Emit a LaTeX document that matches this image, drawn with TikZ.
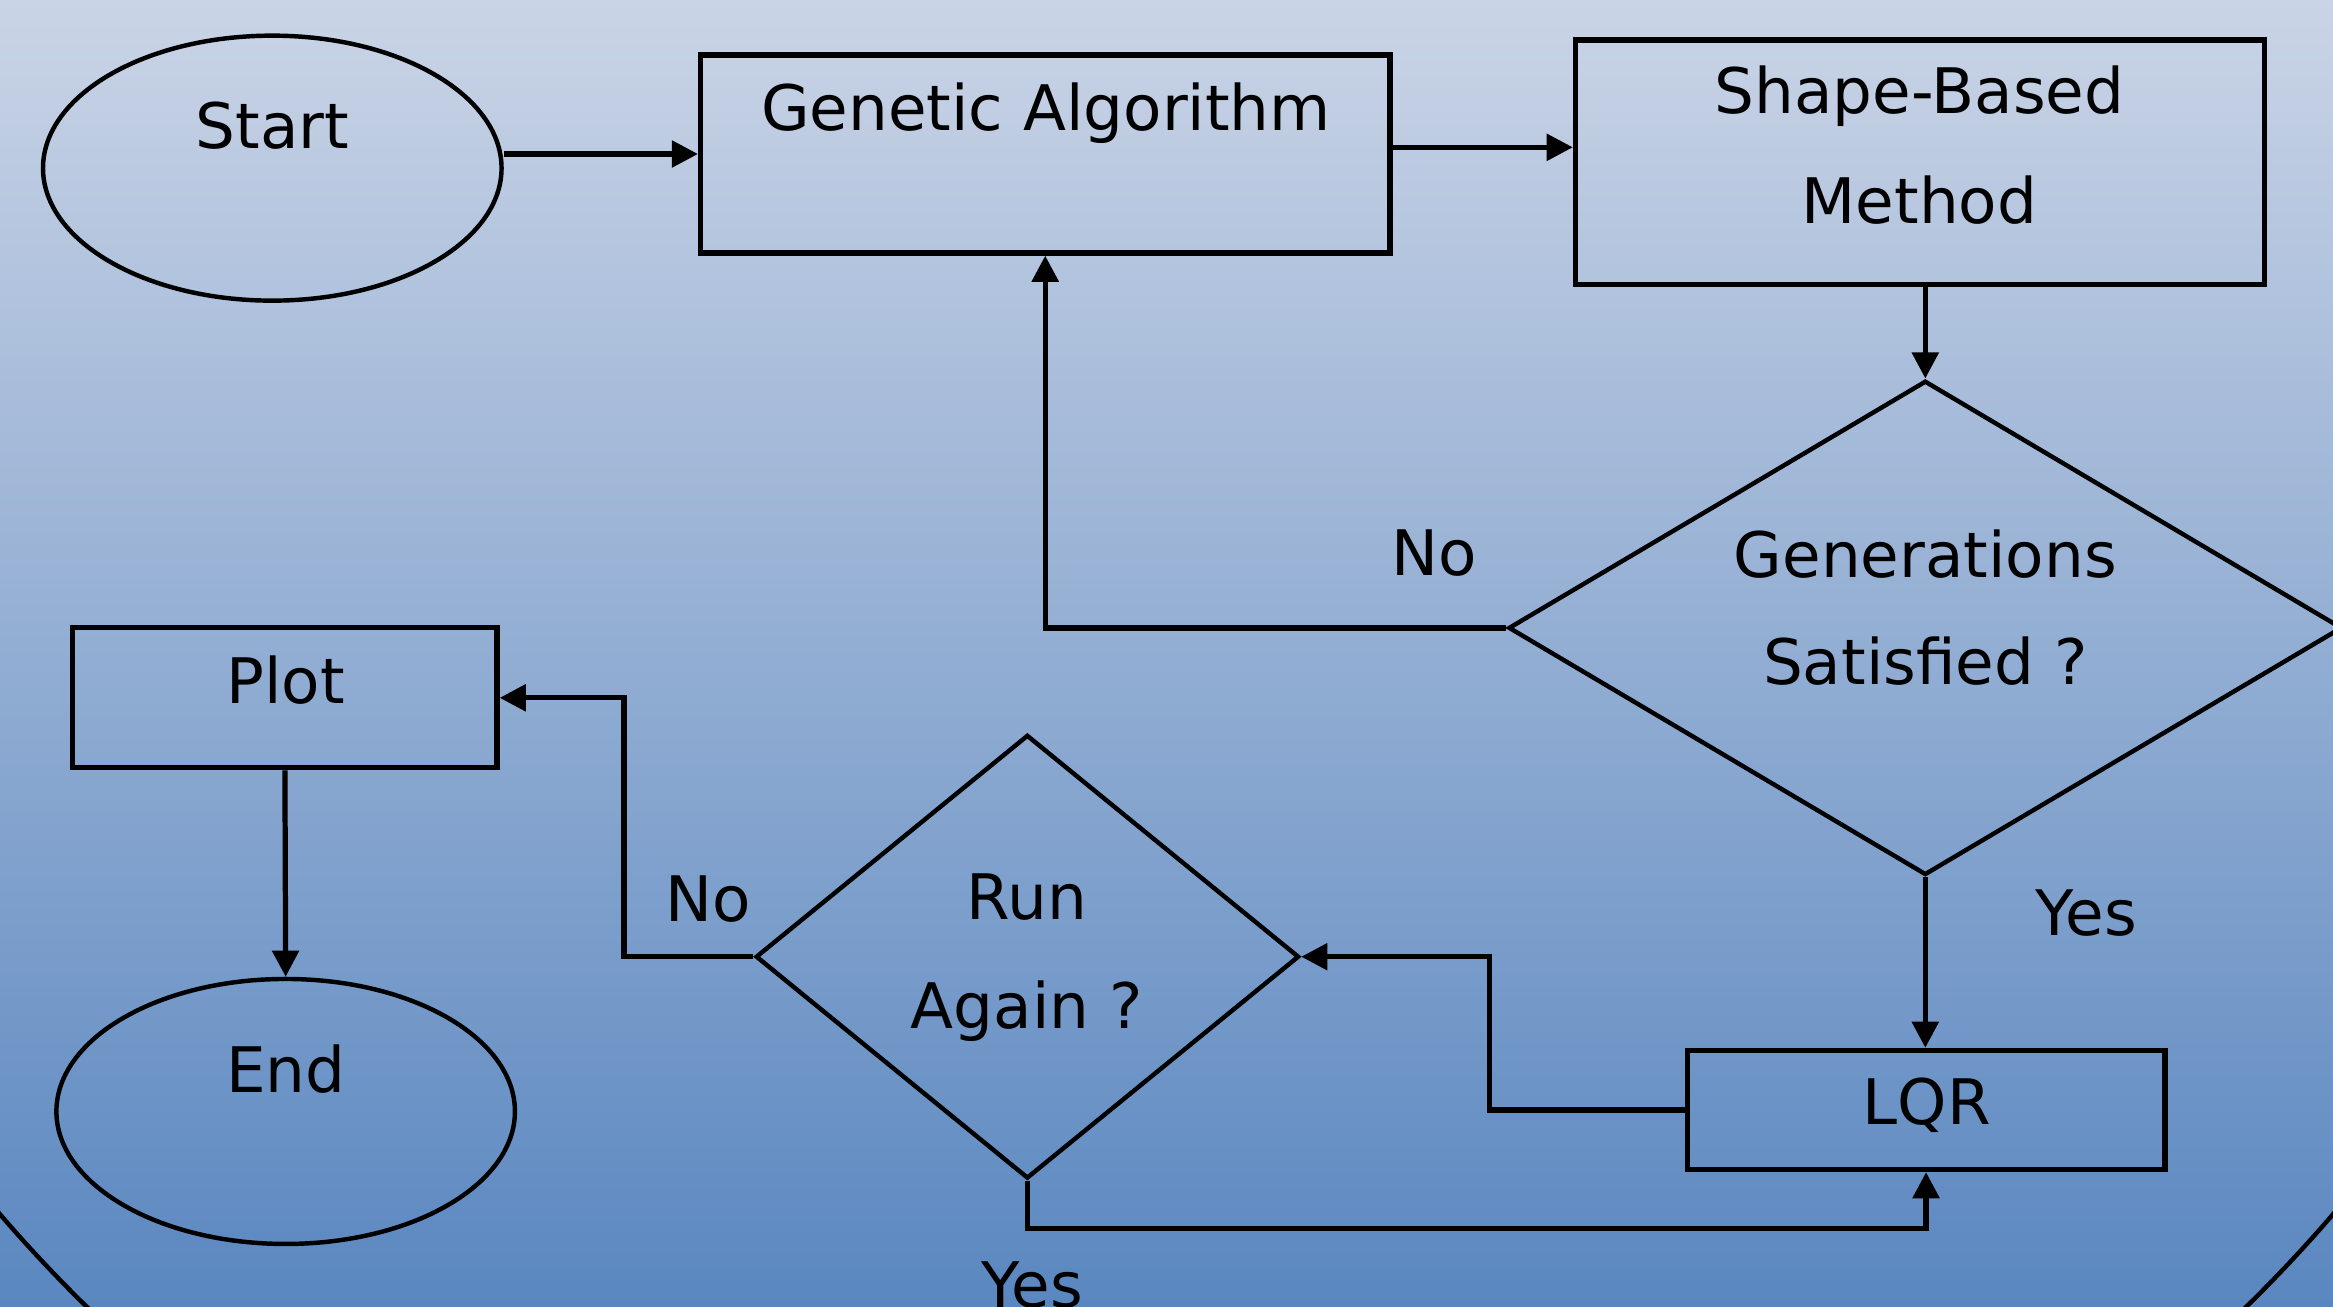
\documentclass[tikz,border=0pt]{standalone}
\usepackage{fontspec}
\setmainfont{DejaVu Sans}
\usetikzlibrary{shapes.geometric,arrows.meta}
\definecolor{bgtop}{RGB}{202,212,230}
\definecolor{bgmid}{RGB}{152,174,212}
\definecolor{bgbot}{RGB}{90,135,192}
\begin{document}
\begin{tikzpicture}[x=0.01cm,y=-0.01cm,
  font=\fontsize{12}{14}\selectfont,
  ln/.style={line width=1pt},
  thin ln/.style={line width=0.85pt},
  boxnode/.style={ln,draw,rectangle,inner sep=0pt},
  ovalnode/.style={thin ln,draw,ellipse,inner sep=0pt},
  decnode/.style={thin ln,draw,diamond,inner sep=0pt},
  txt/.style={anchor=base,inner sep=0pt},
  arr/.style={ln,-{Triangle[length=5pt,width=5pt]}}]
\useasboundingbox (0,0) rectangle (1568,878);
\shade[top color=bgtop,middle color=bgmid,bottom color=bgbot] (0,0) rectangle (1568,878);
\begin{scope}
  \clip (0,0) rectangle (1568,878);
  \draw[thin ln] (784,200) ellipse [x radius=10.14cm,y radius=9.70cm];
  % shapes
  \node[ovalnode,minimum width=3.08cm,minimum height=1.78cm] (Start) at (183,113) {};
  \node[boxnode,minimum width=4.63cm,minimum height=1.33cm] (GA) at (702.5,103.5) {};
  \node[boxnode,minimum width=4.63cm,minimum height=1.64cm] (Shape) at (1290.5,109) {};
  \node[decnode,minimum width=5.60cm,minimum height=3.32cm] (Gen) at (1294,422) {};
  \node[boxnode,minimum width=2.85cm,minimum height=0.94cm] (Plot) at (191.5,469) {};
  \node[ovalnode,minimum width=3.08cm,minimum height=1.78cm] (End) at (192,747) {};
  \node[decnode,minimum width=3.65cm,minimum height=2.98cm] (Run) at (690.5,643) {};
  \node[boxnode,minimum width=3.21cm,minimum height=0.80cm] (LQR) at (1294.5,746) {};
  % texts
  \node[txt] (tStart) at (183,99.5) {Start};
  \node[txt] (tGA) at (703,88) {Genetic Algorithm};
  \node[txt] (tShape1) at (1290,76) {Shape-Based};
  \node[txt] (tShape2) at (1290,150) {Method};
  \node[txt] (tGen1) at (1294,388) {Generations};
  \node[txt] (tGen2) at (1294,460) {Satisfied ?};
  \node[txt] (tPlot) at (192,473) {Plot};
  \node[txt] (tEnd) at (192,734) {End};
  \node[txt] (tRun1) at (690,618) {Run};
  \node[txt] (tRun2) at (690,691) {Again ?};
  \node[txt] (tLQR) at (1295,756) {LQR};
  \node[txt] (lNo1) at (964,387) {No};
  \node[txt] (lYes1) at (1402,629) {Yes};
  \node[txt] (lNo2) at (476,619) {No};
  \node[txt] (lYes2) at (694,879) {Yes};
  % connectors
  \draw[arr] (Start.east |- GA.west) -- (GA.west);
  \draw[arr] (GA.east |- 0,99) -- (Shape.west |- 0,99);
  \draw[arr] (Shape.south -| Gen.north) -- (Gen.north);
  \draw[arr] (Gen.west) -| (GA.south);
  \draw[arr] (Gen.south) -- (Gen.south |- LQR.north);
  \draw[arr] (LQR.west) -- ++(-131,0) |- (Run.east);
  \draw[arr] (Run.west) -- ++(-87,0) |- (Plot.east);
  \draw[arr] (Run.south) -- ++(0,32) -| (LQR.south);
  \draw[arr] (Plot.south) -- (End.north);
\end{scope}
\end{tikzpicture}
\end{document}
